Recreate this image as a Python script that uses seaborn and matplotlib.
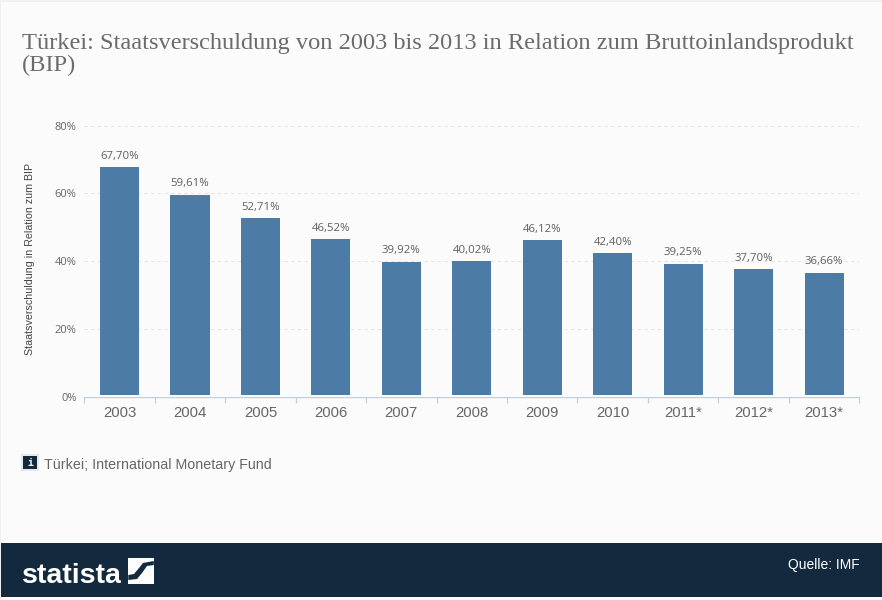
import matplotlib
matplotlib.use("Agg")
import matplotlib.pyplot as plt
from matplotlib.patches import Rectangle, Polygon
import pandas as pd
import seaborn as sns

sns.set_style("white")

years = ["2003", "2004", "2005", "2006", "2007", "2008", "2009", "2010", "2011*", "2012*", "2013*"]
debt = [67.70, 59.61, 52.71, 46.52, 39.92, 40.02, 46.12, 42.40, 39.25, 37.70, 36.66]
debt_labels = ["67,70%", "59,61%", "52,71%", "46,52%", "39,92%", "40,02%", "46,12%", "42,40%", "39,25%", "37,70%", "36,66%"]
y_ticks = [0, 20, 40, 60, 80]
y_ticklabels = ["0%", "20%", "40%", "60%", "80%"]

BG = "#fbfbfb"
BAR = "#4c7ca6"
NAVY = "#132a3e"
W, H = 882, 600

df = pd.DataFrame({"year": years, "debt": debt})

fig = plt.figure(figsize=(W / 100, H / 100), dpi=100, facecolor="#f0f0f0")

# page background + footer, in pixel coords
bg = fig.add_axes([0, 0, 1, 1], zorder=0)
bg.set_xlim(0, W)
bg.set_ylim(H, 0)
bg.axis("off")
bg.add_patch(Rectangle((1, 2), W - 1, H - 2, fc=BG, ec="none"))
bg.add_patch(Rectangle((1, 543), W - 1, 54, fc=NAVY, ec="none"))

# chart area
ax = fig.add_axes([84.3 / W, 1 - 397 / H, (859.3 - 84.3) / W, (397 - 125.5) / H], zorder=1)
ax.patch.set_alpha(0)
sns.barplot(data=df, x="year", y="debt", color=BAR, saturation=1, width=0.555, linewidth=0, ax=ax, zorder=2)
ax.set_xlim(-0.5, 10.5)
ax.set_ylim(0, 80)
ax.set_xlabel("")
ax.set_ylabel("Staatsverschuldung in Relation zum BIP", fontsize=7.65, color="#444444",
              family="Liberation Sans", labelpad=0)
ax.yaxis.set_label_coords(-0.063, 0.507)

ax.set_yticks(y_ticks)
ax.set_yticklabels(y_ticklabels, fontsize=8, color="#666666", family="Open Sans")
ax.grid(axis="y", color="#e6e6e6", linestyle=(0, (3, 3)), linewidth=0.8, zorder=0)
ax.tick_params(axis="y", length=0, pad=5.5)

# tick marks sit between the categories
ax.set_xticks(range(len(years)))
ax.set_xticklabels(years, fontsize=10.7, color="#666666", family="Liberation Sans")
ax.set_xticks([i - 0.5 for i in range(len(years) + 1)], minor=True)
ax.tick_params(axis="x", which="major", bottom=False, length=0, pad=6.5)
ax.tick_params(axis="x", which="minor", bottom=True, length=4, width=0.9, color="#c0d0e0", direction="out")

sns.despine(ax=ax, left=True)
ax.spines["bottom"].set_color("#c0d0e0")
ax.spines["bottom"].set_linewidth(1)

# small gap between the bars and the axis line
ax.axhspan(0, 0.6, color=BG, zorder=3, lw=0)

for i, label in enumerate(debt_labels):
    ax.annotate(label, (i, debt[i]), xytext=(0, 4), textcoords="offset points", ha="center", va="bottom",
                fontsize=8.2, color="#5f5f5f", family="Open Sans", zorder=4)

# title
bg.text(22, 49, "Türkei: Staatsverschuldung von 2003 bis 2013 in Relation zum Bruttoinlandsprodukt",
        fontsize=17.55, color="#6b6b6b", family="Liberation Serif", va="baseline")
bg.text(22, 71.5, "(BIP)", fontsize=17.55, color="#6b6b6b", family="Liberation Serif", va="baseline")

# info box
bg.add_patch(Rectangle((21, 454), 18, 17, fc="#e6e9ec", ec="none"))
bg.add_patch(Rectangle((23, 456), 14, 13, fc=NAVY, ec="none"))
bg.text(30, 462.5, "i", fontsize=7, color="white", family="DejaVu Sans Mono", weight="bold", ha="center", va="center")
bg.text(44, 465, "Türkei; International Monetary Fund", fontsize=10.25, color="#666666",
        family="Liberation Sans", va="center")

# footer
bg.text(22, 583, "statista", fontsize=20.5, color="white", family="Liberation Sans", weight="bold", va="baseline")
bg.add_patch(Rectangle((128.3, 558), 25.5, 26, fc="white", ec="none"))
bg.add_patch(Polygon([(128.3, 575), (134, 574), (139, 568), (143, 563), (153.8, 561),
                      (153.8, 565), (147, 566), (142, 573), (137, 579), (128.3, 580)],
                     fc=NAVY, ec="none"))
bg.text(860, 565, "Quelle: IMF", fontsize=10, color="white", family="Liberation Sans", ha="right", va="center")

fig.savefig("out.png", dpi=100, facecolor=fig.get_facecolor())
plt.close()
